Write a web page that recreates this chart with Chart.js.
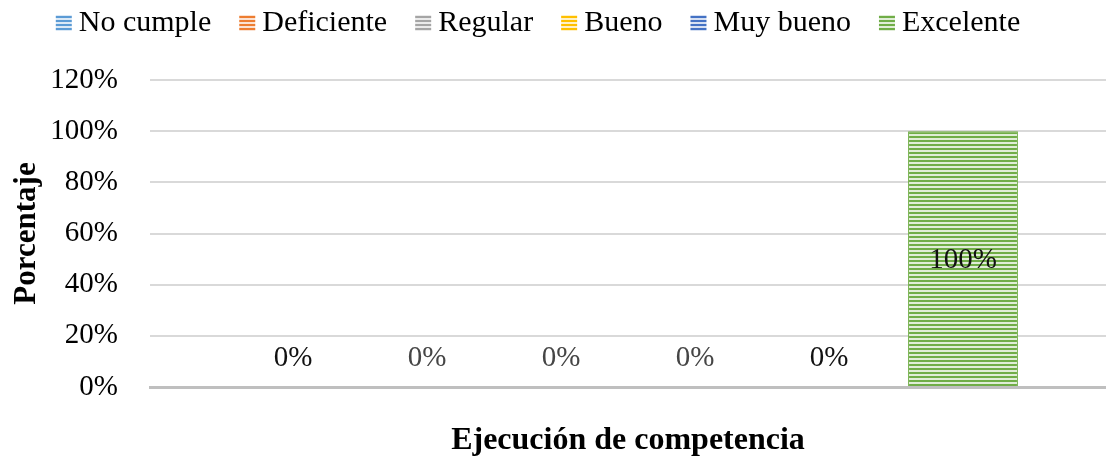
<!DOCTYPE html>
<html>
<head>
<meta charset="utf-8">
<script src="https://cdn.jsdelivr.net/npm/chart.js@4.4.1/dist/chart.umd.min.js"></script>
<style>
  html, body { margin: 0; padding: 0; background: #ffffff; }
  #wrap { width: 1106px; height: 458px; }
</style>
</head>
<body>
<div id="wrap"><canvas id="c" width="1106" height="458"></canvas></div>
<script>
// Data
const categories = [''];
const seriesNames = ['No cumple', 'Deficiente', 'Regular', 'Bueno', 'Muy bueno', 'Excelente'];
const noCumple = [0];
const deficiente = [0];
const regular = [0];
const bueno = [0];
const muyBueno = [0];
const excelente = [100];
const seriesValues = [noCumple, deficiente, regular, bueno, muyBueno, excelente];
const yTickValues = [0, 20, 40, 60, 80, 100, 120];

// Styling
const seriesColors = ['#5B9BD5', '#ED7D31', '#A5A5A5', '#FFC000', '#4472C4', '#70AD47'];
const valueLabelColors = ['#111111', '#454545', '#454545', '#454545', '#111111', '#111111'];
const FONT = "'Liberation Serif', 'Times New Roman', serif";

const canvas = document.getElementById('c');
const ctx0 = canvas.getContext('2d');

function tint(hex, t) {
  const n = parseInt(hex.slice(1), 16);
  const r = n >> 16 & 255, g = n >> 8 & 255, b = n & 255;
  const m = v => Math.round(v + (255 - v) * t);
  return `rgb(${m(r)},${m(g)},${m(b)})`;
}

// Horizontal stripe fill: solid line, pale line
function stripes(hex) {
  const c = document.createElement('canvas');
  c.width = 8; c.height = 4;
  const x = c.getContext('2d');
  x.fillStyle = tint(hex, 0.78);
  x.fillRect(0, 0, 8, 4);
  x.fillStyle = hex;
  x.fillRect(0, 0, 8, 2);
  return ctx0.createPattern(c, 'repeat');
}

// Legend row across the top
const legendRow = {
  id: 'legendRow',
  afterDraw(chart) {
    const ctx = chart.ctx;
    ctx.save();
    ctx.font = `30px ${FONT}`;
    ctx.textBaseline = 'middle';
    ctx.textAlign = 'left';
    const box = 16, gapText = 7, gapItem = 28, cy = 23;
    const items = chart.data.datasets.map(d => ({
      text: d.label,
      fill: d.backgroundColor,
      w: ctx.measureText(d.label).width
    }));
    const total = items.reduce((s, it) => s + box + gapText + it.w, 0) + gapItem * (items.length - 1);
    let x = 538 - total / 2;
    items.forEach(it => {
      ctx.fillStyle = it.fill;
      ctx.fillRect(x, cy - 8, box, box);
      ctx.fillStyle = '#000000';
      ctx.fillText(it.text, x + box + gapText, cy);
      x += box + gapText + it.w + gapItem;
    });
    ctx.restore();
  }
};

// Value labels: zero bars above the axis, others centred in the bar
const valueLabels = {
  id: 'valueLabels',
  afterDatasetsDraw(chart) {
    const ctx = chart.ctx;
    ctx.save();
    ctx.font = `29px ${FONT}`;
    ctx.textAlign = 'center';
    ctx.textBaseline = 'middle';
    chart.data.datasets.forEach((ds, di) => {
      const meta = chart.getDatasetMeta(di);
      meta.data.forEach((el, i) => {
        const v = ds.data[i];
        const y = v === 0 ? el.base - 29 : (el.y + el.base) / 2 + 2;
        ctx.fillStyle = valueLabelColors[di];
        ctx.fillText(v + '%', el.x, y);
      });
    });
    ctx.restore();
  }
};

const datasets = seriesNames.map((name, i) => ({
  label: name,
  data: seriesValues[i],
  backgroundColor: stripes(seriesColors[i]),
  borderColor: seriesColors[i],
  borderWidth: { left: 1, right: 1, top: 1, bottom: 0 },
  categoryPercentage: 0.841,
  barPercentage: 0.82
}));

new Chart(canvas, {
  type: 'bar',
  data: { labels: categories, datasets },
  options: {
    responsive: false,
    animation: false,
    devicePixelRatio: 1,
    layout: { padding: { top: 80, left: 0, right: 0, bottom: 0 } },
    plugins: {
      legend: { display: false },
      tooltip: { enabled: false }
    },
    scales: {
      x: {
        grid: { display: false },
        border: { display: true, color: '#BFBFBF', width: 3 },
        ticks: { display: false },
        title: {
          display: true,
          text: 'Ejecución de competencia',
          color: '#000000',
          font: { family: FONT, size: 32, weight: 'bold', lineHeight: 1 },
          padding: { top: 0, bottom: 1 }
        },
        afterFit(scale) { scale.height = 71; }
      },
      y: {
        min: yTickValues[0],
        max: yTickValues[yTickValues.length - 1],
        afterBuildTicks(scale) { scale.ticks = yTickValues.map(v => ({ value: v })); },
        grid: { color: '#D9D9D9', lineWidth: 2, drawTicks: false },
        border: { display: false },
        ticks: {
          padding: 32,
          color: '#000000',
          font: { family: FONT, size: 29 },
          callback: v => v + '%'
        },
        title: {
          display: true,
          text: 'Porcentaje',
          color: '#000000',
          font: { family: FONT, size: 31, weight: 'bold', lineHeight: 1.2 },
          padding: { top: 8, bottom: 0 }
        },
        afterFit(scale) { scale.width = 150; }
      }
    }
  },
  plugins: [legendRow, valueLabels]
});
</script>
</body>
</html>
